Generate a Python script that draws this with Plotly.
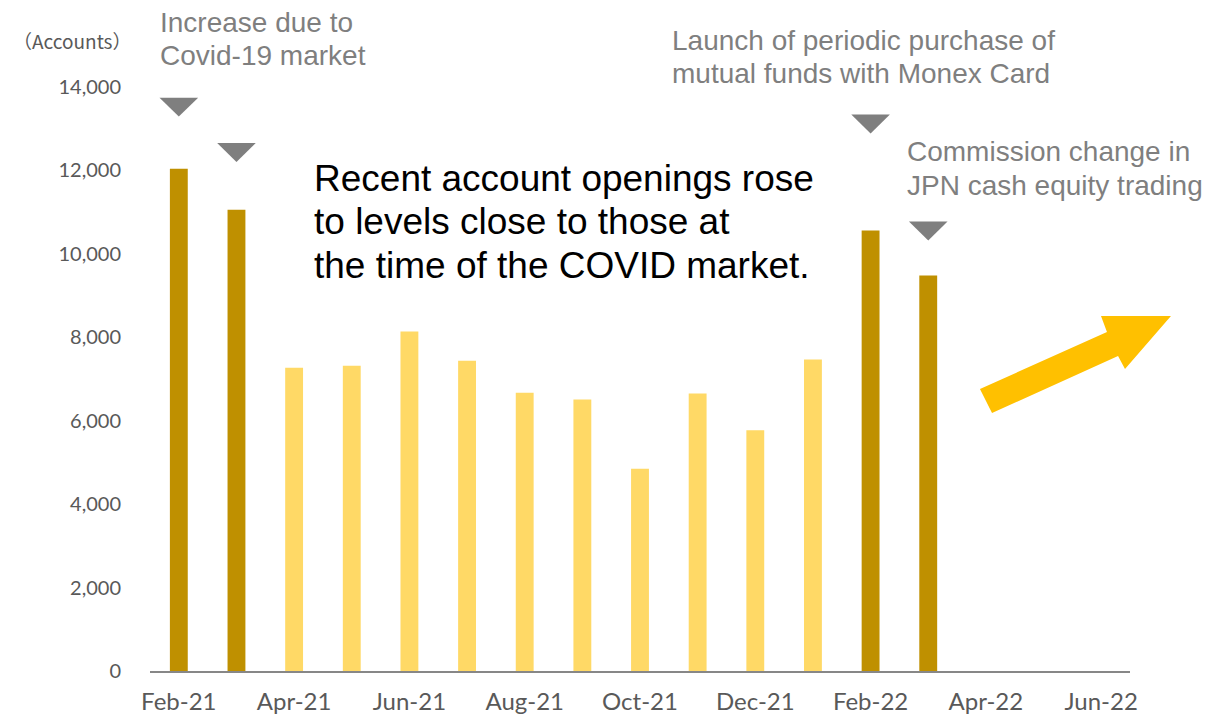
import plotly.graph_objects as go

# ---------------- data ----------------
months = ["Feb-21", "Mar-21", "Apr-21", "May-21", "Jun-21", "Jul-21", "Aug-21", "Sep-21",
          "Oct-21", "Nov-21", "Dec-21", "Jan-22", "Feb-22", "Mar-22", "Apr-22", "May-22", "Jun-22"]
accounts = [12040, 11060, 7270, 7320, 8140, 7440, 6670, 6510, 4850, 6650, 5770, 7470, 10560, 9480]
highlight_months = ["Feb-21", "Mar-21", "Feb-22", "Mar-22"]
y_ticks = [0, 2000, 4000, 6000, 8000, 10000, 12000, 14000]
x_tick_labels = months[::2]

# marker triangles: (month, value at triangle tip)
triangle_marks = [("Feb-21", 13290), ("Mar-21", 12200), ("Feb-22", 12885), ("Mar-22", 10320)]

DARK = "#BF9000"
LIGHT = "#FFD966"
ARROW = "#FFC000"
GRAY = "#7F7F7F"

W, H = 1226, 719
ML, MR, MT, MB = 150, 96, 87, 48
PW, PH = W - ML - MR, H - MT - MB


def px(x):
    return (x - ML) / PW


def py(y):
    return (H - MB - y) / PH


idx = list(range(len(accounts)))
colors = [DARK if months[i] in highlight_months else LIGHT for i in idx]

fig = go.Figure()
fig.add_trace(go.Bar(x=idx, y=accounts, width=0.31, marker=dict(color=colors, line=dict(width=0)),
                     hoverinfo="skip"))

shapes = []
# triangles
for m, v in triangle_marks:
    i = months.index(m)
    hw = 0.335
    h = 455
    shapes.append(dict(type="path", xref="x", yref="y",
                       path=f"M {i-hw},{v+h} L {i+hw},{v+h} L {i},{v} Z",
                       fillcolor=GRAY, line=dict(width=0)))

# big yellow arrow (pixel outline -> paper coords)
arrow_pts = [(980, 389), (1107, 332), (1101, 316), (1171, 316), (1125, 369), (1118, 356), (992, 413)]
path = "M " + " L ".join(f"{px(x):.4f},{py(y):.4f}" for x, y in arrow_pts) + " Z"
shapes.append(dict(type="path", xref="paper", yref="paper", path=path,
                   fillcolor=ARROW, line=dict(width=0)))

ann_font = dict(family="Liberation Sans, Arial", size=28, color=GRAY)
main_font = dict(family="Liberation Sans, Arial", size=37, color="#000000")

text_blocks = [
    (["Increase due to", "Covid-19 market"], 158, [22.5, 56], ann_font),
    (["Launch of periodic purchase of", "mutual funds with Monex Card"], 670, [40, 73], ann_font),
    (["Commission change in", "JPN cash equity trading"], 905, [151, 185], ann_font),
    (["Recent account openings rose", "to levels close to those at", "the time of the COVID market."],
     312, [178, 221.5, 265], main_font),
]

annotations = []
for lines, x0, ys, f in text_blocks:
    for line, yy in zip(lines, ys):
        annotations.append(dict(text=line, x=px(x0), y=py(yy), xref="paper", yref="paper",
                                xanchor="left", yanchor="middle", align="left", showarrow=False,
                                font=f))

annotations.append(dict(text="（Accounts）", x=px(134), y=py(40), xref="paper", yref="paper",
                        xanchor="right", yanchor="middle", showarrow=False,
                        font=dict(family="Noto Sans CJK JP", size=19, color="#595959")))

fig.update_layout(
    width=W, height=H,
    margin=dict(l=ML, r=MR, t=MT, b=MB, pad=0),
    paper_bgcolor="white", plot_bgcolor="white",
    showlegend=False,
    bargap=0.69,
    shapes=shapes,
    annotations=annotations,
    xaxis=dict(range=[-0.5, len(months) - 0.5], tickmode="array",
               tickvals=list(range(0, len(months), 2)), ticktext=x_tick_labels,
               showgrid=False, zeroline=False, showline=True, linecolor="#878787", linewidth=2,
               ticks="", tickfont=dict(family="Lato", size=24, color="#595959"),
               ticklabelstandoff=8, automargin=False),
    yaxis=dict(range=[0, 14000], tickmode="array", tickvals=y_ticks, tickformat=",",
               showgrid=False, zeroline=False, showline=False, ticks="",
               tickfont=dict(family="Lato", size=20, color="#595959"), ticklabelstandoff=28,
               automargin=False),
)

fig.write_html("out.html", config={"displayModeBar": False},
               post_script="document.body.style.margin='0';")
